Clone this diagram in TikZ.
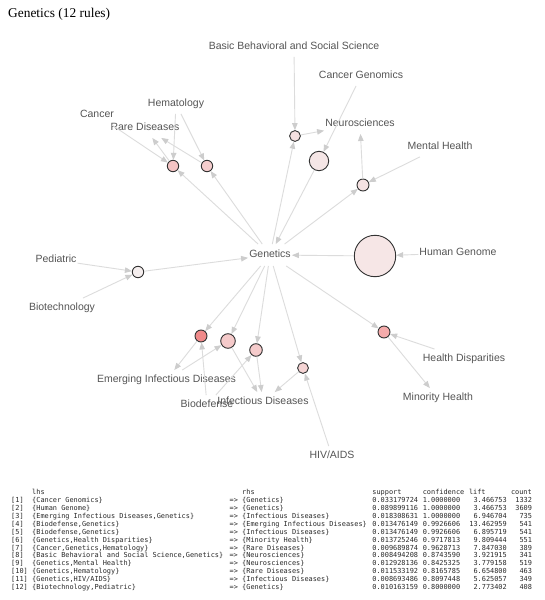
\documentclass[tikz,border=0pt]{standalone}
\usepackage{fontspec}
\setmainfont{Liberation Serif}
\newfontfamily\labfont{Liberation Sans}
\newfontfamily\tblfont{DejaVu Sans Mono}
\usetikzlibrary{arrows.meta}
\definecolor{edgegray}{HTML}{DCDCDC}
\definecolor{arrowgray}{HTML}{CDCDCD}
\definecolor{labgray}{HTML}{555555}
\definecolor{ringgray}{HTML}{333333}
\definecolor{tblgray}{HTML}{2A2A2A}
\definecolor{ca}{HTML}{F5E6E6}
\definecolor{cb}{HTML}{F6E6E6}
\definecolor{cc}{HTML}{F5CACA}
\definecolor{cd}{HTML}{F08A8A}
\definecolor{ce}{HTML}{F5CBCB}
\definecolor{cf}{HTML}{F5ABAB}
\definecolor{cg}{HTML}{F4C4C4}
\definecolor{ch}{HTML}{F5E0E0}
\definecolor{ci}{HTML}{F5E2E2}
\definecolor{cj}{HTML}{F5CDCD}
\definecolor{ck}{HTML}{F5D4D4}
\definecolor{cl}{HTML}{F5EEEE}
\newlength\tcw
\setlength\tcw{4.2bp}
\newcommand\tblrow[7]{\makebox[5\tcw][l]{#1}\makebox[47\tcw][l]{#2}\makebox[3\tcw][l]{=>}\makebox[31\tcw][l]{#3}\makebox[12\tcw][l]{#4}\makebox[11\tcw][l]{#5}\makebox[9\tcw][r]{#6}\makebox[6\tcw][r]{#7}}
\newcommand\tblhead{\makebox[5\tcw][l]{}\makebox[47\tcw][l]{lhs}\makebox[3\tcw][l]{}\makebox[31\tcw][l]{rhs}\makebox[12\tcw][l]{support}\makebox[11\tcw][l]{confidence}\makebox[10\tcw][l]{lift}\makebox[5\tcw][l]{count}}
\tikzset{
  conn/.style={draw=edgegray, line width=0.9bp, -{Triangle[length=7bp,width=5.5bp,color=arrowgray]}},
  lab/.style={font=\labfont\fontsize{10.5bp}{12bp}\selectfont, text=labgray, inner xsep=1bp, inner ysep=5bp, text height=7.5bp, text depth=2bp},
  genlab/.style={lab, inner ysep=6bp},
  rulec/.style={circle, draw=ringgray, line width=0.9bp, inner sep=0pt},
  tbl/.style={font=\tblfont\fontsize{6.9bp}{7.88bp}\selectfont, text=tblgray, inner sep=0pt, anchor=base west}
}
\begin{document}
\begin{tikzpicture}[x=1bp,y=-1bp]
\useasboundingbox (0,0) rectangle (545,600);
\fill[white] (0,0) rectangle (545,600);
% title
\node[font=\fontsize{13.4bp}{15bp}\selectfont, inner sep=0pt, anchor=base west] (title) at (8,18) {Genetics (12 rules)};
% item labels
\node[lab] (bbss) at (294,47) {Basic Behavioral and Social Science};
\node[lab] (cg) at (361,76) {Cancer Genomics};
\node[lab] (hema) at (176,104) {Hematology};
\node[lab] (cancer) at (97,115) {Cancer};
\node[lab] (rd) at (145,128) {Rare Diseases};
\node[lab] (neuro) at (360,124) {Neurosciences};
\node[lab] (mh) at (440,147) {Mental Health};
\node[genlab] (gen) at (270,255) {Genetics};
\node[lab] (hg) at (458,253) {Human Genome};
\node[lab] (ped) at (56,260) {Pediatric};
\node[lab] (bio) at (62,308) {Biotechnology};
\node[lab] (eid) at (166.5,380) {Emerging Infectious Diseases};
\node[lab] (biod) at (207,405) {Biodefense};
\node[lab] (id) at (263,402) {Infectious Diseases};
\node[lab] (hiv) at (332,456) {HIV/AIDS};
\node[lab] (hd) at (464,359) {Health Disparities};
\node[lab] (minh) at (438,398) {Minority Health};
% rule circles
\node[rulec, minimum size=19.4bp, fill=ca] (r1) at (319,161) {};
\node[rulec, minimum size=41.4bp, fill=cb] (r2) at (375,256) {};
\node[rulec, minimum size=14.6bp, fill=cc] (r3) at (228,341) {};
\node[rulec, minimum size=12bp, fill=cd] (r4) at (201,336) {};
\node[rulec, minimum size=12.6bp, fill=ce] (r5) at (256,350) {};
\node[rulec, minimum size=12bp, fill=cf] (r6) at (384,332) {};
\node[rulec, minimum size=11.4bp, fill=cg] (r7) at (173,166) {};
\node[rulec, minimum size=10.8bp, fill=ch] (r8) at (295,136) {};
\node[rulec, minimum size=12bp, fill=ci] (r9) at (363,185) {};
\node[rulec, minimum size=11.4bp, fill=cj] (r10) at (207,166) {};
\node[rulec, minimum size=10.8bp, fill=ck] (r11) at (303,368) {};
\node[rulec, minimum size=11.4bp, fill=cl] (r12) at (138,272) {};
% connectors
\draw[conn] (bbss) -- (r8);
\draw[conn] (r8) -- (neuro);
\draw[conn] (gen) -- (r8);
\draw[conn] (cg) -- (r1);
\draw[conn] (r1) -- (gen);
\draw[conn] (mh) -- (r9);
\draw[conn] (gen) -- (r9);
\draw[conn] (r9) -- (neuro);
\draw[conn] (cancer) -- (r7);
\draw[conn] (hema) -- (r7);
\draw[conn] (gen) -- (r7);
\draw[conn] (r7) -- (rd);
\draw[conn] (hema) -- (r10);
\draw[conn] (gen) -- (r10);
\draw[conn] (r10) -- (rd);
\draw[conn] (hg) -- (r2);
\draw[conn] (r2) -- (gen);
\draw[conn] (ped) -- (r12);
\draw[conn] (bio) -- (r12);
\draw[conn] (r12) -- (gen);
\draw[conn] (gen) -- (r4);
\draw[conn] (biod) -- (r4);
\draw[conn] (r4) -- (eid);
\draw[conn] (gen) -- (r3);
\draw[conn] (eid) -- (r3);
\draw[conn] (r3) -- (id);
\draw[conn] (gen) -- (r5);
\draw[conn] (biod) -- (r5);
\draw[conn] (r5) -- (id);
\draw[conn] (gen) -- (r11);
\draw[conn] (hiv) -- (r11);
\draw[conn] (r11) -- (id);
\draw[conn] (gen) -- (r6);
\draw[conn] (hd) -- (r6);
\draw[conn] (r6) -- (minh);
% table
\node[tbl] (t0) at (11,494.5) {\tblhead};
\node[tbl] (t1) at (11,502.8) {\tblrow{[1]}{\{Cancer Genomics\}}{\{Genetics\}}{0.033179724}{1.0000000}{3.466753}{1332}};
\node[tbl] (t2) at (11,510.68) {\tblrow{[2]}{\{Human Genome\}}{\{Genetics\}}{0.089899116}{1.0000000}{3.466753}{3609}};
\node[tbl] (t3) at (11,518.56) {\tblrow{[3]}{\{Emerging Infectious Diseases,Genetics\}}{\{Infectious Diseases\}}{0.018308631}{1.0000000}{6.946704}{735}};
\node[tbl] (t4) at (11,526.44) {\tblrow{[4]}{\{Biodefense,Genetics\}}{\{Emerging Infectious Diseases\}}{0.013476149}{0.9926606}{13.462959}{541}};
\node[tbl] (t5) at (11,534.32) {\tblrow{[5]}{\{Biodefense,Genetics\}}{\{Infectious Diseases\}}{0.013476149}{0.9926606}{6.895719}{541}};
\node[tbl] (t6) at (11,542.2) {\tblrow{[6]}{\{Genetics,Health Disparities\}}{\{Minority Health\}}{0.013725246}{0.9717813}{9.809444}{551}};
\node[tbl] (t7) at (11,550.08) {\tblrow{[7]}{\{Cancer,Genetics,Hematology\}}{\{Rare Diseases\}}{0.009689874}{0.9628713}{7.847030}{389}};
\node[tbl] (t8) at (11,557.96) {\tblrow{[8]}{\{Basic Behavioral and Social Science,Genetics\}}{\{Neurosciences\}}{0.008494208}{0.8743590}{3.921915}{341}};
\node[tbl] (t9) at (11,565.84) {\tblrow{[9]}{\{Genetics,Mental Health\}}{\{Neurosciences\}}{0.012928136}{0.8425325}{3.779158}{519}};
\node[tbl] (t10) at (11,573.72) {\tblrow{[10]}{\{Genetics,Hematology\}}{\{Rare Diseases\}}{0.011533192}{0.8165785}{6.654800}{463}};
\node[tbl] (t11) at (11,581.6) {\tblrow{[11]}{\{Genetics,HIV/AIDS\}}{\{Infectious Diseases\}}{0.008693486}{0.8097448}{5.625057}{349}};
\node[tbl] (t12) at (11,589.48) {\tblrow{[12]}{\{Biotechnology,Pediatric\}}{\{Genetics\}}{0.010163159}{0.8000000}{2.773402}{408}};
\end{tikzpicture}
\end{document}
